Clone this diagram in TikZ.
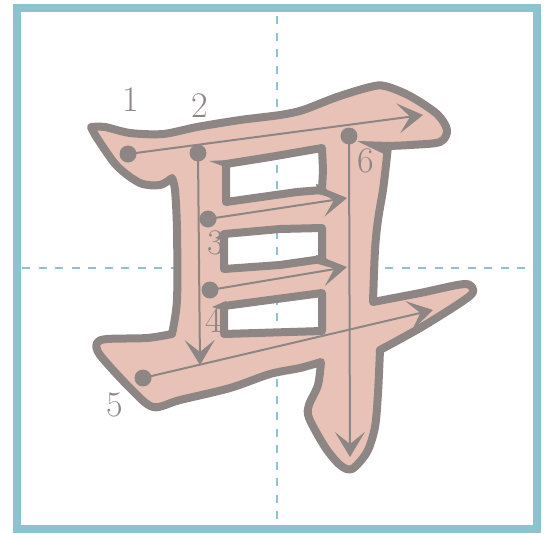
\documentclass[tikz,border=0pt]{standalone}
\usetikzlibrary{arrows.meta}
\definecolor{gbord}{HTML}{8BC4CF}
\definecolor{gpink}{HTML}{E8C2B6}
\definecolor{ggrey}{HTML}{8E8585}
\begin{document}
\begin{tikzpicture}[x=1pt,y=-1pt,
  frame/.style={draw=gbord,line width=8pt},
  guide/.style={draw=gbord,line width=2pt,dash pattern=on 8pt off 8.5pt},
  glyph/.style={fill=gpink,draw=ggrey,line width=8pt,line join=round,even odd rule},
  flare/.style={fill=ggrey},
  order/.style={draw=ggrey,line width=2pt,-{Stealth[length=25pt,width=30pt,inset=12pt]}},
  dot/.style={circle,fill=ggrey,inner sep=0pt,minimum size=17pt},
  num/.style={text=ggrey,inner sep=0pt,font=\fontsize{36}{36}\selectfont}]
\useasboundingbox (0,0) rectangle (549,533);
% guides
\draw[guide] (277,16) -- (277,524);
\draw[guide] (22,268) -- (532,268);
\draw[frame] (16.5,8) rectangle (536.5,528.5);
% glyph
\path[glyph]
  plot[smooth] coordinates {(91,127) (105,127) (130,133) (163,134) (197,127) (240,120) (280,115) (303,110) (337,97) (370,87) (385,86) (410,96) (437,114) (447,130) (440,142) (410,145) (388,146)}
  -- plot[smooth] coordinates {(388,146) (386,165) (383,190) (378,220) (375,250) (373,302)}
  -- plot[smooth] coordinates {(373,302) (420,293) (465,284) (473,292) (460,303) (420,328) (380,350)}
  -- plot[smooth] coordinates {(380,350) (378,393) (375,427) (367,452) (352,469) (340,465) (325,447) (309,418) (309,405) (318,385) (321,362)}
  -- plot[smooth] coordinates {(321,362) (300,368) (270,374) (230,388) (180,400) (153,407) (130,388) (100,355) (97,343) (107,339) (147,338) (172,334)}
  -- plot[smooth] coordinates {(172,334) (177,300) (177,230) (175,190) (172,178)}
  -- plot[smooth] coordinates {(172,178) (160,185) (140,183) (117,166) (97,138) (91,127)}
  -- cycle
  (226,164) -- (270,157) -- (322,148) -- (323,170) -- (322,190) -- (297,192) -- (226,202) -- cycle
  (224,234) -- (280,229) -- (322,228) -- (322,259) -- (280,265) -- (224,269) -- cycle
  (224,306) -- (322,293) -- (322,331) -- (224,334) -- cycle;
% flares
\fill[flare] (228,160) -- (209,161) -- (228,168) -- cycle;
\fill[flare] (226,232) -- (215,238) -- (226,241) -- cycle;
\fill[flare] (226,301) -- (212,307) -- (226,311) -- cycle;
\fill[flare] (316,184) .. controls (325,186) .. (334,200) .. controls (326,196) .. (318,194) -- cycle;
\fill[flare] (316,255) .. controls (326,257) .. (336,269) .. controls (327,266) .. (318,264) -- cycle;
\fill[flare] (357,141) -- (390,142) -- (384,154) -- cycle;
% stroke order
\node[dot] (d1) at (128,154) {};
\node[dot] (d2) at (198,153) {};
\node[dot] (d3) at (208,219) {};
\node[dot] (d4) at (210,290) {};
\node[dot] (d5) at (143,378) {};
\node[dot] (d6) at (349,136) {};
\coordinate (e1) at (423,115);
\coordinate (e2) at (200,365);
\coordinate (e3) at (347,198);
\coordinate (e4) at (347,267);
\coordinate (e5) at (433,310);
\coordinate (e6) at (350,457);
\draw[order] (d1.center) -- (e1);
\draw[order] (d2.center) -- (e2);
\draw[order] (d3.center) -- (e3);
\draw[order] (d4.center) -- (e4);
\draw[order] (d5.center) -- (e5);
\draw[order] (d6.center) -- (e6);
\node[num] (l1) at (131,100) {1};
\node[num] (l2) at (200,106) {2};
\node[num] (l3) at (216,243) {3};
\node[num] (l4) at (214,320) {4};
\node[num] (l5) at (115,405) {5};
\node[num] (l6) at (366,161) {6};
\end{tikzpicture}
\end{document}
